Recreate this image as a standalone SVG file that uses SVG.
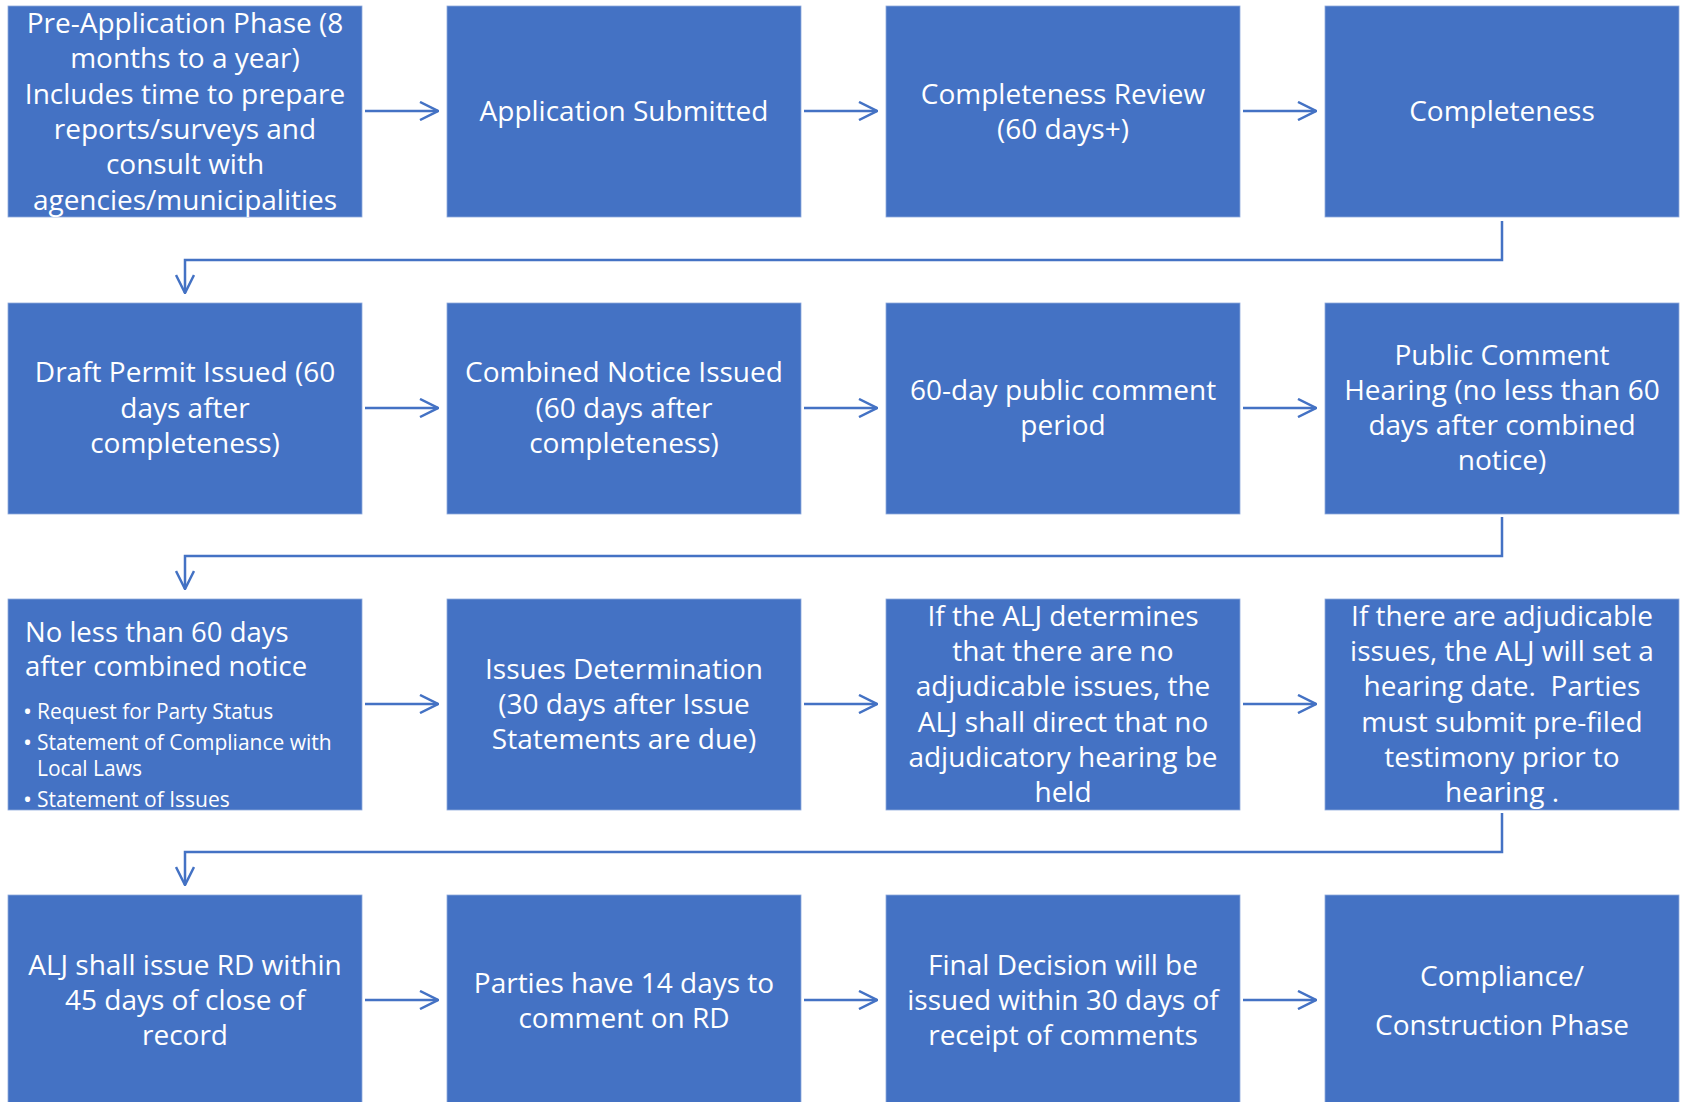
<svg xmlns="http://www.w3.org/2000/svg" width="1683" height="1102" viewBox="0 0 1683 1102">
<defs>
<style>
.box{fill:#4472C4;stroke:#8FAADC;stroke-width:0.8}
.t{font-family:"Open Sans","Noto Sans",sans-serif;font-size:28px;fill:#fff;text-anchor:middle}
.tl{font-family:"Open Sans","Noto Sans",sans-serif;font-size:27.5px;fill:#fff}
.b{font-family:"Open Sans","Noto Sans",sans-serif;font-size:21px;fill:#fff}
.bul{font-size:24px}
.c{fill:none;stroke:#4472C4;stroke-width:2.5}
</style>
<marker id="ah" viewBox="0 0 20 20" refX="19" refY="10" markerWidth="20" markerHeight="20" markerUnits="userSpaceOnUse" orient="auto">
<path d="M1,1 L19,10 L1,19" fill="none" stroke="#4472C4" stroke-width="2.5"/>
</marker>
</defs>
<rect width="1683" height="1102" fill="#fff"/>
<g id="connectors">
<path class="c" d="M365,111 H438" marker-end="url(#ah)"/>
<path class="c" d="M804,111 H877" marker-end="url(#ah)"/>
<path class="c" d="M1243,111 H1316" marker-end="url(#ah)"/>
<path class="c" d="M1502,221 V260 H185 V293" marker-end="url(#ah)"/>
<path class="c" d="M365,408 H438" marker-end="url(#ah)"/>
<path class="c" d="M804,408 H877" marker-end="url(#ah)"/>
<path class="c" d="M1243,408 H1316" marker-end="url(#ah)"/>
<path class="c" d="M1502,517 V556 H185 V589" marker-end="url(#ah)"/>
<path class="c" d="M365,704 H438" marker-end="url(#ah)"/>
<path class="c" d="M804,704 H877" marker-end="url(#ah)"/>
<path class="c" d="M1243,704 H1316" marker-end="url(#ah)"/>
<path class="c" d="M1502,813 V852 H185 V885" marker-end="url(#ah)"/>
<path class="c" d="M365,1000 H438" marker-end="url(#ah)"/>
<path class="c" d="M804,1000 H877" marker-end="url(#ah)"/>
<path class="c" d="M1243,1000 H1316" marker-end="url(#ah)"/>
</g>
<g id="n1"><rect class="box" x="8" y="6" width="354" height="211"/>
<text class="t" x="185"><tspan x="185" y="33">Pre-Application Phase (8</tspan><tspan x="185" y="68">months to a year)</tspan><tspan x="185" y="104">Includes time to prepare</tspan><tspan x="185" y="139">reports/surveys and</tspan><tspan x="185" y="174">consult with</tspan><tspan x="185" y="210">agencies/municipalities</tspan></text></g>
<g id="n2"><rect class="box" x="447" y="6" width="354" height="211"/>
<text class="t" x="624" y="121">Application Submitted</text></g>
<g id="n3"><rect class="box" x="886" y="6" width="354" height="211"/>
<text class="t"><tspan x="1063" y="104">Completeness Review</tspan><tspan x="1063" y="139">(60 days+)</tspan></text></g>
<g id="n4"><rect class="box" x="1325" y="6" width="354" height="211"/>
<text class="t" x="1502" y="121">Completeness</text></g>
<g id="n5"><rect class="box" x="8" y="303" width="354" height="211"/>
<text class="t"><tspan x="185" y="382">Draft Permit Issued (60</tspan><tspan x="185" y="418">days after</tspan><tspan x="185" y="453">completeness)</tspan></text></g>
<g id="n6"><rect class="box" x="447" y="303" width="354" height="211"/>
<text class="t"><tspan x="624" y="382">Combined Notice Issued</tspan><tspan x="624" y="418">(60 days after</tspan><tspan x="624" y="453">completeness)</tspan></text></g>
<g id="n7"><rect class="box" x="886" y="303" width="354" height="211"/>
<text class="t"><tspan x="1063" y="400">60-day public comment</tspan><tspan x="1063" y="435">period</tspan></text></g>
<g id="n8"><rect class="box" x="1325" y="303" width="354" height="211"/>
<text class="t"><tspan x="1502" y="365">Public Comment</tspan><tspan x="1502" y="400">Hearing (no less than 60</tspan><tspan x="1502" y="435">days after combined</tspan><tspan x="1502" y="470">notice)</tspan></text></g>
<g id="n9"><rect class="box" x="8" y="599" width="354" height="211"/>
<text class="tl"><tspan x="25" y="642">No less than 60 days</tspan><tspan x="25" y="676">after combined notice</tspan></text>
<text class="b"><tspan class="bul" x="23" y="720">•</tspan><tspan x="37" y="719">Request for Party Status</tspan><tspan class="bul" x="23" y="751">•</tspan><tspan x="37" y="750">Statement of Compliance with</tspan><tspan x="37" y="776">Local Laws</tspan><tspan class="bul" x="23" y="808">•</tspan><tspan x="37" y="807">Statement of Issues</tspan></text></g>
<g id="n10"><rect class="box" x="447" y="599" width="354" height="211"/>
<text class="t"><tspan x="624" y="679">Issues Determination</tspan><tspan x="624" y="714">(30 days after Issue</tspan><tspan x="624" y="749">Statements are due)</tspan></text></g>
<g id="n11"><rect class="box" x="886" y="599" width="354" height="211"/>
<text class="t"><tspan x="1063" y="626">If the ALJ determines</tspan><tspan x="1063" y="661">that there are no</tspan><tspan x="1063" y="696">adjudicable issues, the</tspan><tspan x="1063" y="732">ALJ shall direct that no</tspan><tspan x="1063" y="767">adjudicatory hearing be</tspan><tspan x="1063" y="802">held</tspan></text></g>
<g id="n12"><rect class="box" x="1325" y="599" width="354" height="211"/>
<text class="t" xml:space="preserve"><tspan x="1502" y="626">If there are adjudicable</tspan><tspan x="1502" y="661">issues, the ALJ will set a</tspan><tspan x="1502" y="696">hearing date.  Parties</tspan><tspan x="1502" y="732">must submit pre-filed</tspan><tspan x="1502" y="767">testimony prior to</tspan><tspan x="1502" y="802">hearing .</tspan></text></g>
<g id="n13"><rect class="box" x="8" y="895" width="354" height="211"/>
<text class="t"><tspan x="185" y="975">ALJ shall issue RD within</tspan><tspan x="185" y="1010">45 days of close of</tspan><tspan x="185" y="1045">record</tspan></text></g>
<g id="n14"><rect class="box" x="447" y="895" width="354" height="211"/>
<text class="t"><tspan x="624" y="993">Parties have 14 days to</tspan><tspan x="624" y="1028">comment on RD</tspan></text></g>
<g id="n15"><rect class="box" x="886" y="895" width="354" height="211"/>
<text class="t"><tspan x="1063" y="975">Final Decision will be</tspan><tspan x="1063" y="1010">issued within 30 days of</tspan><tspan x="1063" y="1045">receipt of comments</tspan></text></g>
<g id="n16"><rect class="box" x="1325" y="895" width="354" height="211"/>
<text class="t"><tspan x="1502" y="986">Compliance/</tspan><tspan x="1502" y="1035">Construction Phase</tspan></text></g>
</svg>
